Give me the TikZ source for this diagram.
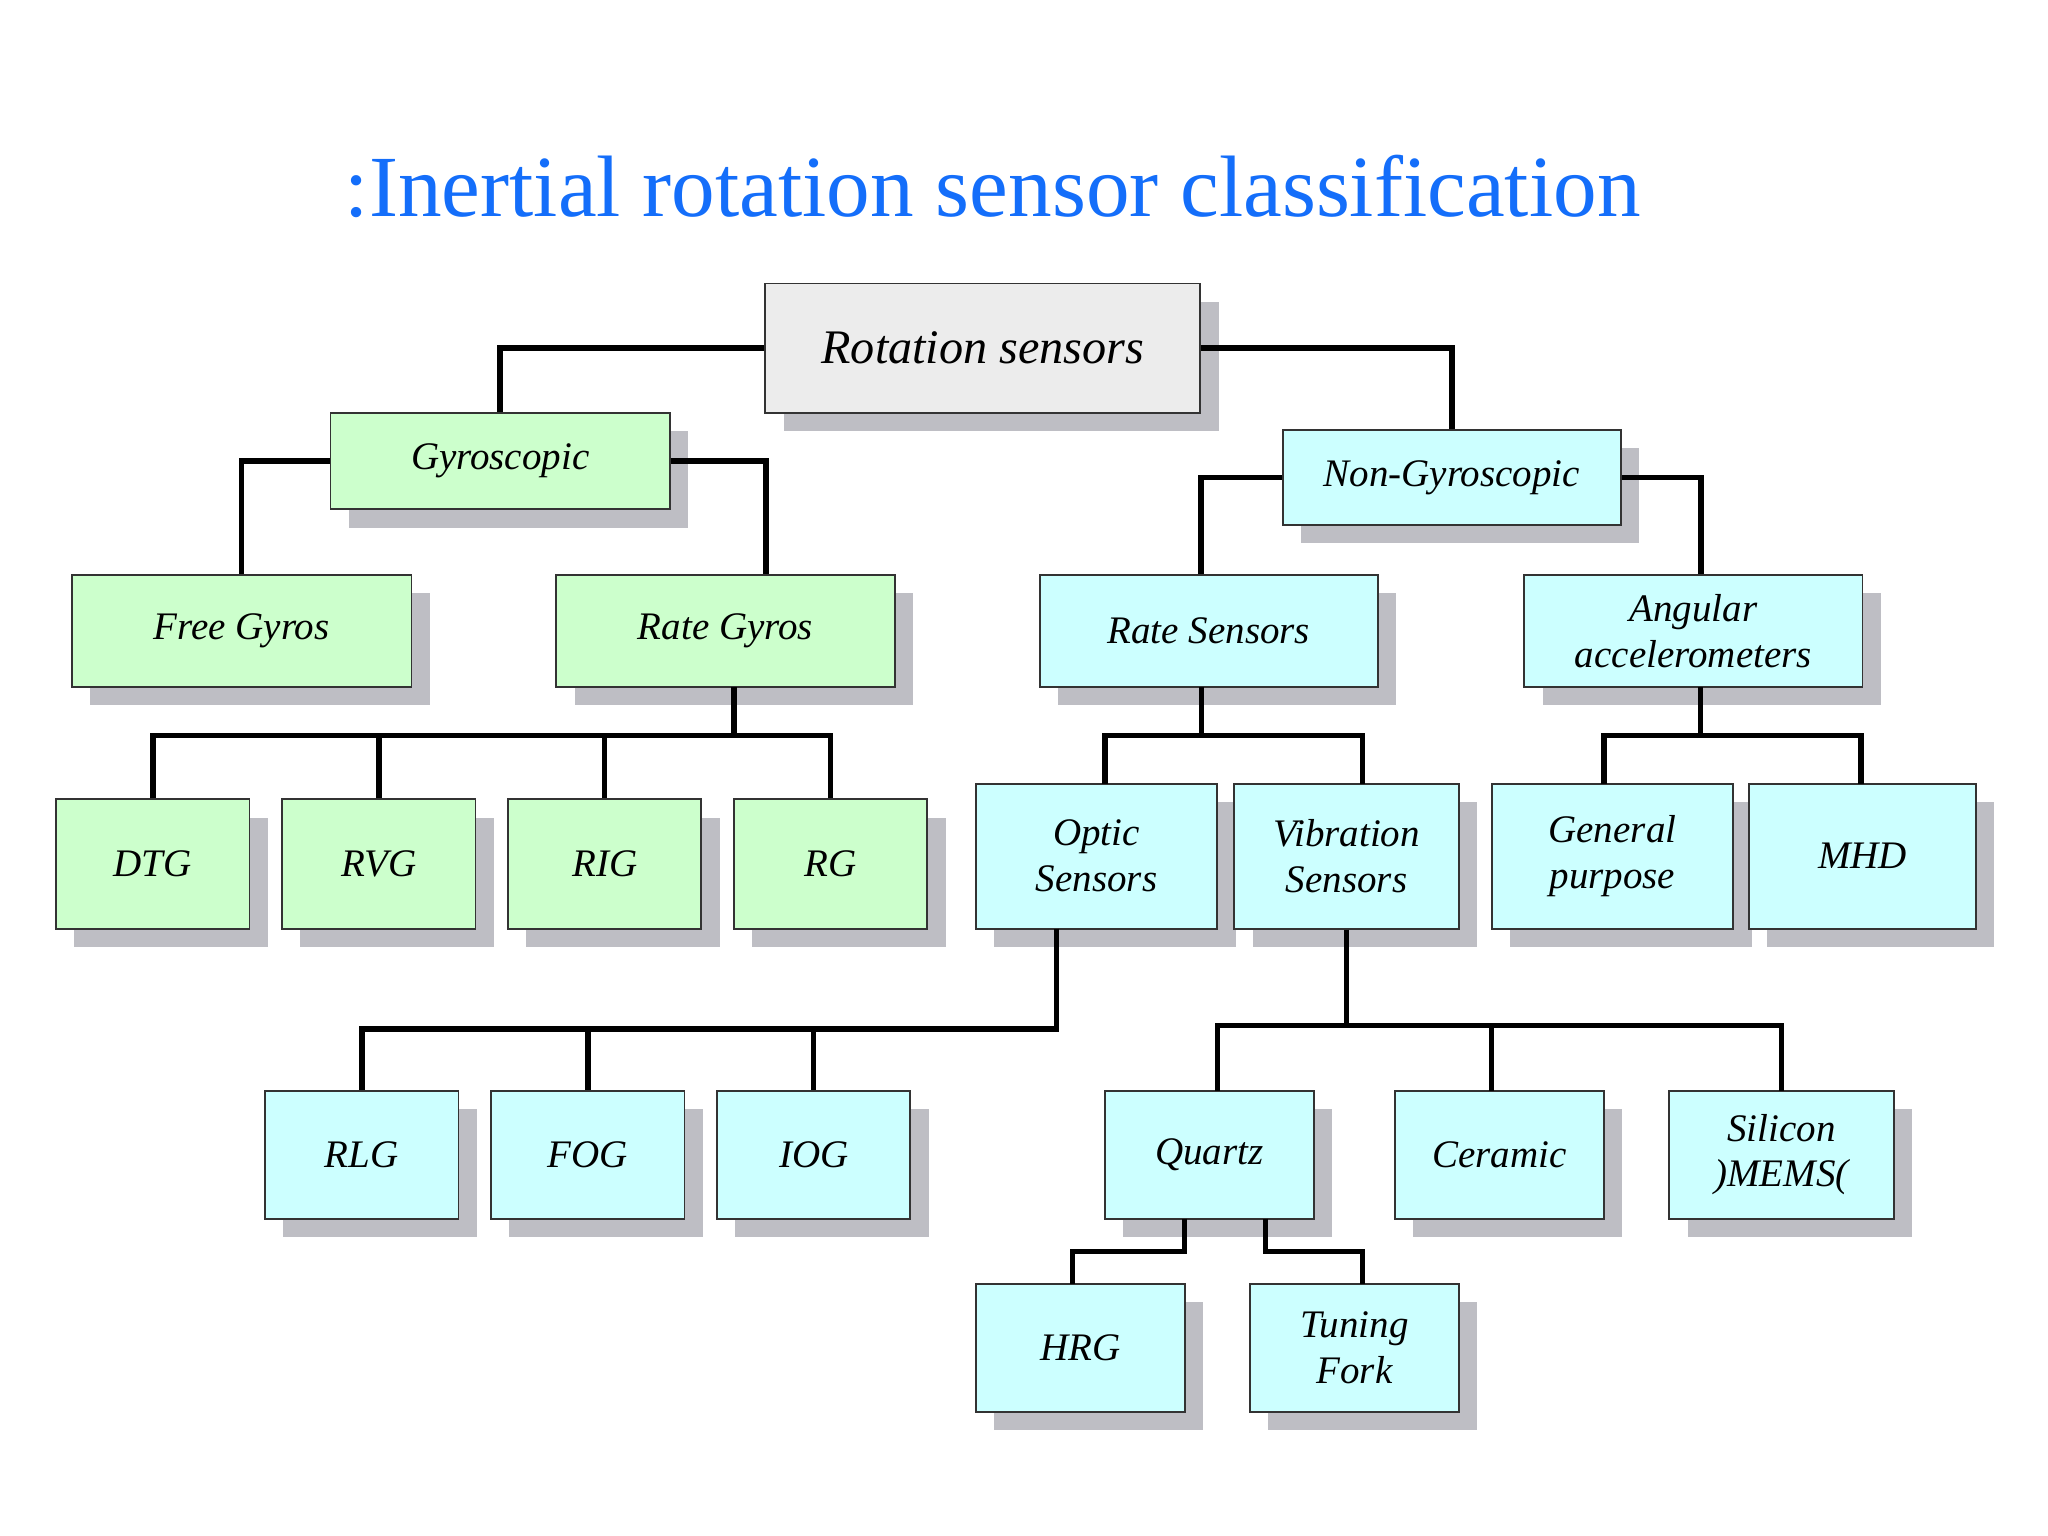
\documentclass[tikz,border=0pt]{standalone}
\usepackage{fontspec}
\setmainfont{Liberation Serif}
\begin{document}
\begin{tikzpicture}[x=0.02cm,y=-0.02cm,
  conn/.style={line width=2.4pt,black},
  lbl/.style={font=\fontsize{17}{20}\selectfont\itshape,align=center}]
\definecolor{gr}{RGB}{204,255,204}
\definecolor{cy}{RGB}{204,255,255}
\definecolor{sh}{RGB}{190,190,196}
\definecolor{ttl}{RGB}{20,110,250}
\useasboundingbox (0,0) rectangle (1568,1176);
\newcommand{\bx}[7]{%
  \fill[sh] (#2+14,#3+14) rectangle (#4+14,#5+14);
  \node[draw=black!80,line width=0.8pt,fill=#6,inner sep=0pt,lbl,
    minimum width={(#4-#2)*0.02cm},minimum height={(#5-#3)*0.02cm}]
    (#1) at ({(#2+#4)/2},{(#3+#5)/2}) {#7};}
\node[font=\fontsize{38}{44}\selectfont,text=ttl] (title) at (760,143) {:Inertial rotation sensor classification};
\bx{rot}{586}{217}{919}{316}{gray!15}{\fontsize{21}{24}\selectfont Rotation sensors}
\bx{gyro}{253}{316}{513}{390}{gr}{Gyroscopic}
\bx{ngyro}{982}{329}{1241}{402}{cy}{Non-Gyroscopic}
\bx{free}{55}{440}{315}{526}{gr}{Free Gyros}
\bx{rgy}{426}{440}{685}{526}{gr}{Rate Gyros}
\bx{rs}{796}{440}{1055}{526}{cy}{Rate Sensors}
\bx{ang}{1167}{440}{1426}{526}{cy}{Angular\\accelerometers}
\bx{dtg}{43}{612}{191}{711}{gr}{DTG}
\bx{rvg}{216}{612}{364}{711}{gr}{RVG}
\bx{rig}{389}{612}{537}{711}{gr}{RIG}
\bx{rg}{562}{612}{710}{711}{gr}{RG}
\bx{opt}{747}{600}{932}{711}{cy}{Optic\\Sensors}
\bx{vib}{945}{600}{1117}{711}{cy}{Vibration\\Sensors}
\bx{gen}{1142}{600}{1327}{711}{cy}{General\\purpose}
\bx{mhd}{1339}{600}{1513}{711}{cy}{MHD}
\bx{rlg}{203}{835}{351}{933}{cy}{RLG}
\bx{fog}{376}{835}{524}{933}{cy}{FOG}
\bx{iog}{549}{835}{697}{933}{cy}{IOG}
\bx{qtz}{846}{835}{1006}{933}{cy}{Quartz}
\bx{cer}{1068}{835}{1228}{933}{cy}{Ceramic}
\bx{sil}{1278}{835}{1450}{933}{cy}{Silicon\\)MEMS(}
\bx{hrg}{747}{983}{907}{1081}{cy}{HRG}
\bx{tf}{957}{983}{1117}{1081}{cy}{Tuning\\Fork}
% connectors
\draw[conn] (rot.west) -| (gyro.north);
\draw[conn] (rot.east) -| (ngyro.north);
\draw[conn] (gyro.west) -| (free.north);
\draw[conn] (gyro.east) -| ([xshift=0.62cm]rgy.north);
\draw[conn] (ngyro.west) -| ([xshift=-0.12cm]rs.north);
\draw[conn] (ngyro.east) -| ([xshift=0.12cm]ang.north);
\coordinate (b1) at (562,563);
\draw[conn] (562,526) -- (b1);
\draw[conn] (dtg.north) |- (b1) -| (rg.north);
\draw[conn] (rvg.north) -- (rvg.north |- b1);
\draw[conn] (rig.north) -- (rig.north |- b1);
\coordinate (b2) at (920,563);
\draw[conn] (920,526) -- (b2);
\draw[conn] (846,600) |- (b2) -| (1043,600);
\coordinate (b3) at (1302,563);
\draw[conn] (1302,526) -- (b3);
\draw[conn] (1228,600) |- (b3) -| (1425,600);
\coordinate (b4) at (809,788);
\draw[conn] (809,711) -- (b4) -| (rlg.north);
\draw[conn] (fog.north) -- (fog.north |- b4);
\draw[conn] (iog.north) -- (iog.north |- b4);
\coordinate (b5) at (1031,785);
\draw[conn] (vib.south) -- (b5);
\draw[conn] (932,835) |- (b5) -| (1364,835);
\draw[conn] (1142,835) -- (1142,785);
\draw[conn] (907,933) -- (907,958) -| (821,983);
\draw[conn] (969,933) -- (969,958) -| (1043,983);
\end{tikzpicture}
\end{document}
